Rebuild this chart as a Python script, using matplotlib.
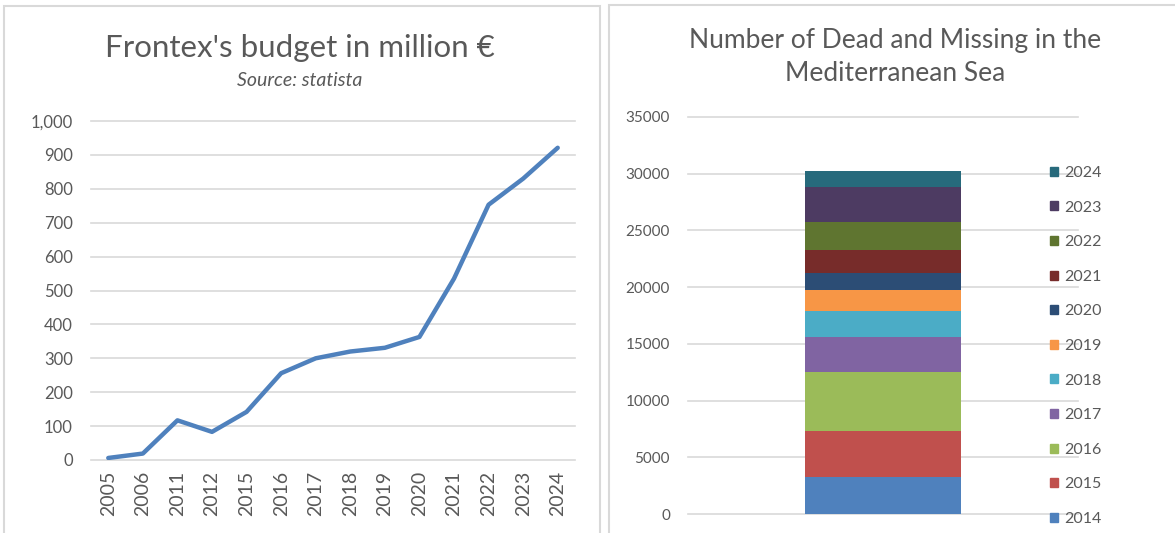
import numpy as np
import matplotlib
matplotlib.use("Agg")
import matplotlib.pyplot as plt
from matplotlib.patches import Rectangle, Patch

## Data
budget_years = ['2005', '2006', '2011', '2012', '2015', '2016', '2017',
                '2018', '2019', '2020', '2021', '2022', '2023', '2024']
budget = [6, 19, 117, 83, 142, 256, 300, 320, 331, 363, 535, 753, 830, 921]

death_years = ['2014', '2015', '2016', '2017', '2018', '2019',
               '2020', '2021', '2022', '2023', '2024']
deaths = [3270, 4055, 5150, 3110, 2285, 1905, 1495, 2025, 2430, 3135, 1400]
death_colors = ['#4F81BD', '#C0504D', '#9BBB59', '#8064A2', '#4BACC6', '#F79646',
                '#2C4D75', '#772C2A', '#5F7530', '#4D3B62', '#276A7C']

plt.rcParams['font.family'] = ['Lato', 'DejaVu Sans']
txt = '#595959'
grid_c = '#D9D9D9'

W, H = 1175, 533
fig = plt.figure(figsize=(W / 100, H / 100), dpi=100)


def px_axes(x0, y0, x1, y1):
    # pixel box (from top-left) -> figure fraction axes
    return fig.add_axes([x0 / W, (H - y1) / H, (x1 - x0) / W, (y1 - y0) / H])


# panel borders
fig.patches.append(Rectangle((4 / W, -0.05), 596 / W, (H - 6) / H + 0.05,
                             transform=fig.transFigure, fill=False, ec=grid_c, lw=1.5))
fig.patches.append(Rectangle((609 / W, -0.05), 600 / W, (H - 5) / H + 0.05,
                             transform=fig.transFigure, fill=False, ec=grid_c, lw=1.5))

## Left: budget line
ax = px_axes(91, 121, 575, 460)
x = np.arange(len(budget))
ax.plot(x, budget, color='#4F81BD', lw=3.2, solid_capstyle='round', zorder=3)
ax.set_xlim(-0.5, len(budget) - 0.5)
ax.set_ylim(0, 1000)
ax.set_yticks(range(0, 1001, 100))
ax.set_yticklabels([f'{v:,}' for v in range(0, 1001, 100)])
ax.set_xticks(x)
ax.set_xticklabels(budget_years, rotation=90)
ax.yaxis.grid(True, color=grid_c, lw=1.2, clip_on=False)
ax.set_axisbelow(True)
for s in ax.spines.values():
    s.set_visible(False)
ax.tick_params(length=0, colors=txt, labelsize=12)
ax.tick_params(axis='y', pad=13)
ax.tick_params(axis='x', pad=8, labelsize=14)
fig.text(300 / W, 1 - 48 / H, "Frontex's budget in million €", ha='center', va='center',
         fontsize=22.5, color=txt)
fig.text(300 / W, 1 - 80 / H, "Source: statista", ha='center', va='center',
         fontsize=14, style='italic', color=txt)

## Right: stacked bar
ax2 = px_axes(688, 117, 1078, 514)
bottom = 0
for yr, v, c in zip(death_years, deaths, death_colors):
    ax2.bar(0, v, width=0.4, bottom=bottom, color=c, label=yr, zorder=3)
    bottom += v
ax2.set_xlim(-0.5, 0.5)
ax2.set_ylim(0, 35000)
ax2.set_yticks(range(0, 35001, 5000))
ax2.set_xticks([])
ax2.yaxis.grid(True, color=grid_c, lw=1.2, clip_on=False)
ax2.set_axisbelow(True)
for s in ax2.spines.values():
    s.set_visible(False)
ax2.tick_params(length=0, colors=txt, labelsize=11, pad=13)

handles = [Patch(color=c, label=yr) for yr, c in zip(death_years, death_colors)][::-1]
fig.legend(handles=handles, loc='upper left', bbox_to_anchor=(1042 / W, 1 - 158 / H),
           frameon=False, fontsize=11.5, labelcolor=txt, handlelength=0.5,
           handleheight=0.5, handletextpad=0.4, labelspacing=1.29, borderpad=0)

fig.text(895 / W, 1 - 57 / H, "Number of Dead and Missing in the\nMediterranean Sea",
         ha='center', va='center', fontsize=19, color=txt, linespacing=1.42)

fig.savefig('out.png', dpi=100)
